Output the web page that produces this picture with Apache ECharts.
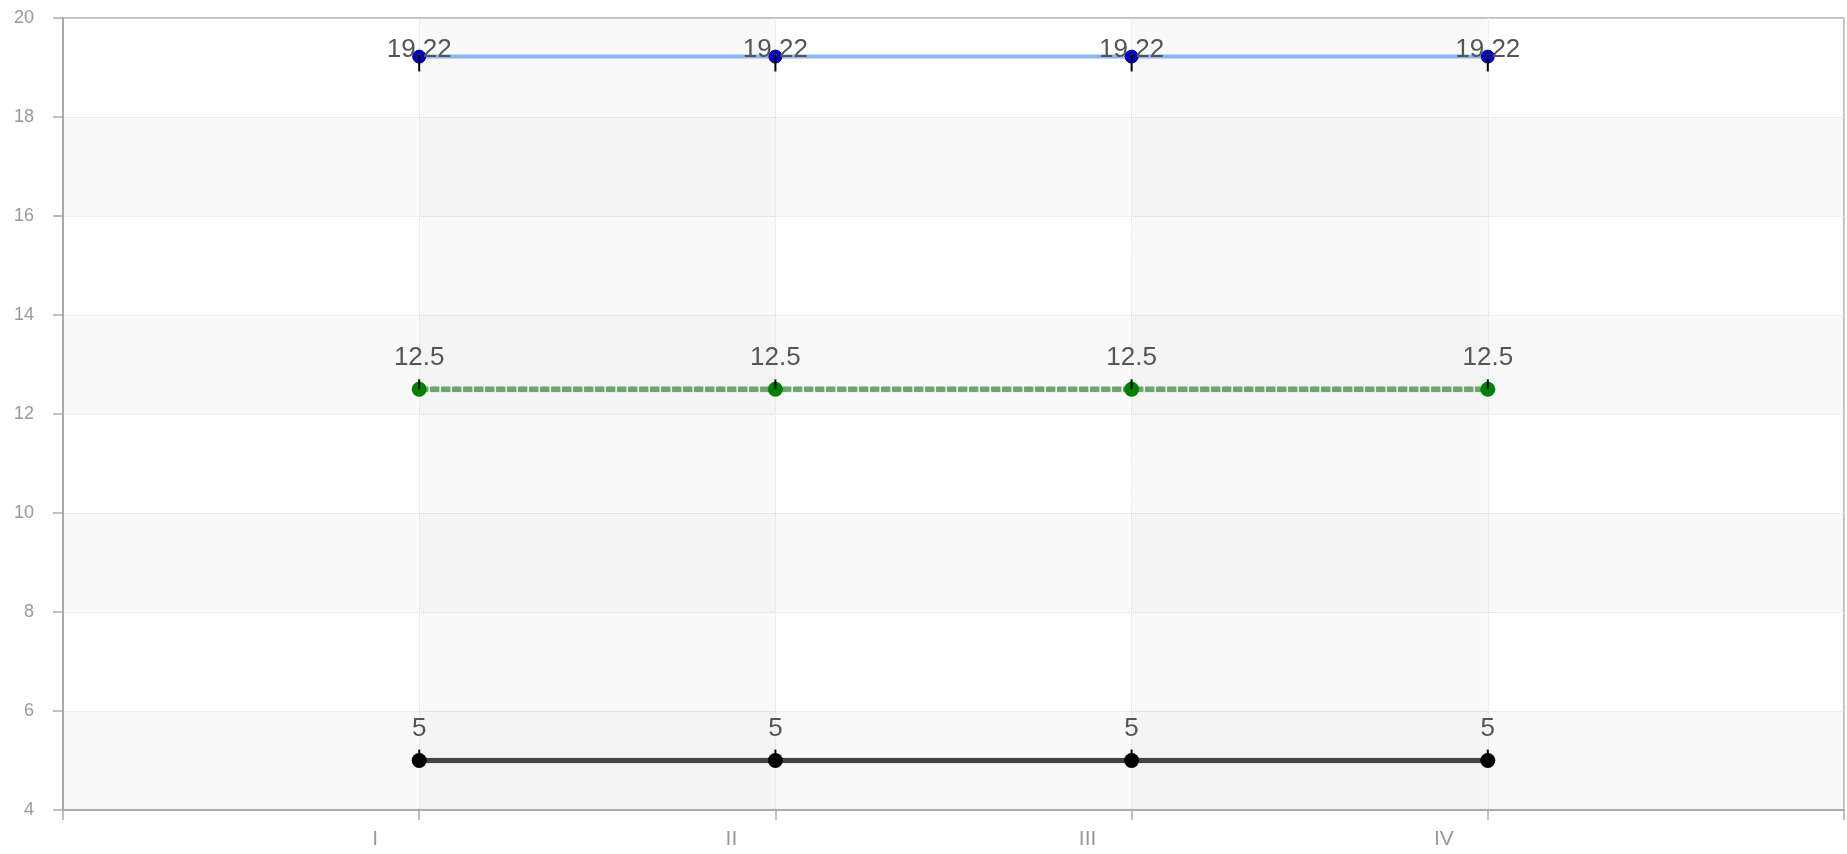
<!DOCTYPE html>
<html>
<head>
<meta charset="utf-8">
<script src="https://cdn.jsdelivr.net/npm/echarts@6/dist/echarts.min.js"></script>
<style>
html,body{margin:0;padding:0;background:#fff;}
#chart{width:1847px;height:854px;}
</style>
</head>
<body>
<div id="chart"></div>
<script>
// ---- data ----
var xPositions = [1, 2, 3, 4];
var tickLabels = ['', 'I', 'II', 'III', 'IV', ''];
var blueValues = [19.22, 19.22, 19.22, 19.22];
var greenValues = [12.5, 12.5, 12.5, 12.5];
var blackValues = [5, 5, 5, 5];
var blueErrLow = [18.92, 18.92, 18.92, 18.92];
var blueErrHigh = [19.26, 19.26, 19.26, 19.26];
var greenErrLow = [12.5, 12.5, 12.5, 12.5];
var greenErrHigh = [12.7, 12.7, 12.7, 12.7];
var blackErrLow = [5, 5, 5, 5];
var blackErrHigh = [5.22, 5.22, 5.22, 5.22];

function pairs(vals) { return xPositions.map(function (x, i) { return [x, vals[i]]; }); }
function errData(lo, hi) { return xPositions.map(function (x, i) { return [x, lo[i], hi[i]]; }); }

var errData3 = errData(blueErrLow, blueErrHigh)
  .concat(errData(greenErrLow, greenErrHigh))
  .concat(errData(blackErrLow, blackErrHigh));

var chart = echarts.init(document.getElementById('chart'));
var labelFont = 'Liberation Sans, Arial, sans-serif';
chart.setOption({
  animation: false,
  grid: { left: 63, right: 1, top: 18, bottom: 44, show: true, borderColor: '#aaa', borderWidth: 1.5 },
  xAxis: {
    type: 'value', min: 0, max: 5, interval: 1,
    axisLine: { lineStyle: { color: '#aaa', width: 2 } },
    axisTick: { length: 10, lineStyle: { color: '#aaa', width: 1.5 } },
    axisLabel: {
      color: '#999', fontSize: 21, fontFamily: labelFont, margin: 19,
      padding: [0, 88, 0, 0],
      formatter: function (v) { return tickLabels[Math.round(v)] || ''; }
    },
    splitLine: { show: true, lineStyle: { color: '#ddd', type: 'dotted' } },
    splitArea: { show: true, areaStyle: { color: ['rgba(255,255,255,0)', 'rgba(0,0,0,0.022)'] } }
  },
  yAxis: {
    type: 'value', min: 4, max: 20, interval: 2,
    axisLine: { show: true, lineStyle: { color: '#aaa', width: 2 } },
    axisTick: { show: true, length: 10, lineStyle: { color: '#aaa', width: 1.5 } },
    axisLabel: { color: '#999', fontSize: 18, fontFamily: labelFont, margin: 29 },
    splitLine: { show: true, lineStyle: { color: '#ddd', type: 'dotted' } },
    splitArea: { show: true, areaStyle: { color: ['rgba(0,0,0,0.022)', 'rgba(255,255,255,0)'] } }
  },
  series: [
    {
      type: 'line', data: pairs(blueValues), z: 3,
      symbol: 'circle', symbolSize: 13,
      itemStyle: { color: '#0000c0', borderColor: '#000080', borderWidth: 1 },
      lineStyle: { color: '#8ab6f2', width: 4 },
      label: { show: true, position: 'inside', offset: [0, -7], color: '#555', fontSize: 26, fontFamily: labelFont }
    },
    {
      type: 'line', data: pairs(greenValues), z: 3,
      symbol: 'circle', symbolSize: 15,
      itemStyle: { color: '#008000' },
      lineStyle: { color: '#6aa66e', width: 5, type: [9, 2], shadowColor: 'rgba(0,60,0,0.6)', shadowBlur: 1 },
      label: { show: true, position: 'top', distance: 11, color: '#555', fontSize: 26, fontFamily: labelFont }
    },
    {
      type: 'line', data: pairs(blackValues), z: 3,
      symbol: 'circle', symbolSize: 15,
      itemStyle: { color: '#000' },
      lineStyle: { color: '#444', width: 5, shadowColor: 'rgba(0,0,0,0.7)', shadowBlur: 1 },
      label: { show: true, position: 'top', distance: 11, color: '#555', fontSize: 26, fontFamily: labelFont }
    },
    {
      type: 'custom', z: 5, silent: true,
      data: errData3,
      encode: { x: 0, y: [1, 2] },
      renderItem: function (params, api) {
        var p1 = api.coord([api.value(0), api.value(1)]);
        var p2 = api.coord([api.value(0), api.value(2)]);
        return { type: 'line', shape: { x1: p1[0], y1: p1[1], x2: p2[0], y2: p2[1] },
                 style: { stroke: '#000', lineWidth: 2 } };
      }
    }
  ]
});
</script>
</body>
</html>
